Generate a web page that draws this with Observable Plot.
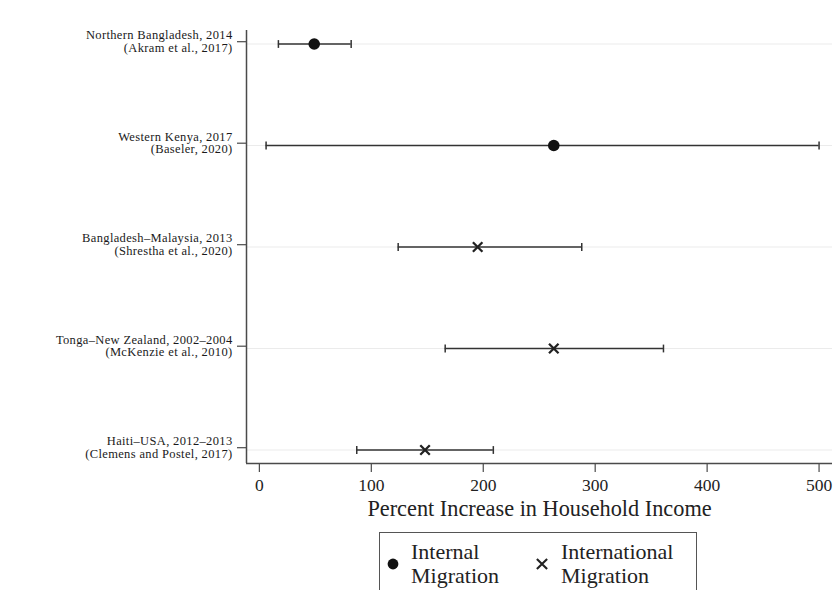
<!DOCTYPE html>
<html>
<head>
<meta charset="utf-8">
<script src="https://cdn.jsdelivr.net/npm/d3@7"></script>
<script src="https://cdn.jsdelivr.net/npm/@observablehq/plot@0.6"></script>
<style>
  html, body { margin: 0; padding: 0; background: #fff; overflow: hidden; }
  #chart { width: 837px; font-family: "Liberation Serif", serif; }
  #chart svg { display: block; }
  #chart svg g[aria-label="y-axis tick label"] text { letter-spacing: 0.35px; }
  .legend {
    position: relative;
    margin: 10px 0 0 379px;
    width: 316px;
    height: 64px;
    border: 1px solid #555;
    font-family: "Liberation Serif", serif;
    font-size: 22px;
    line-height: 24px;
    color: #222;
  }
  .legend .item-text { position: absolute; top: 7px; }
  .legend svg { position: absolute; overflow: visible; }
</style>
</head>
<body>
<div id="chart"></div>
<script>
// Study settings and their sources (top to bottom)
const studies = [
  "Northern Bangladesh, 2014",
  "Western Kenya, 2017",
  "Bangladesh\u2013Malaysia, 2013",
  "Tonga\u2013New Zealand, 2002\u20132004",
  "Haiti\u2013USA, 2012\u20132013"
];
const citations = [
  "(Akram et al., 2017)",
  "(Baseler, 2020)",
  "(Shrestha et al., 2020)",
  "(McKenzie et al., 2010)",
  "(Clemens and Postel, 2017)"
];
const migrationType = ["Internal", "Internal", "International", "International", "International"];

// Point estimates and confidence bounds, percent increase in household income
const estimate = [49, 263, 195, 263, 148];
const lower = [17, 6, 124, 166, 87];
const upper = [82, 500, 288, 361, 209];

const xTicks = [0, 100, 200, 300, 400, 500];
const legendLabels = ["Internal\nMigration", "International\nMigration"];

const rows = studies.map((s, i) => ({
  row: i + 1,
  study: s,
  citation: citations[i],
  type: migrationType[i],
  est: estimate[i],
  lo: lower[i],
  hi: upper[i]
}));

// vertical cap for the ends of each interval
const capSymbol = {
  draw(ctx, size) {
    const h = Math.sqrt(size / Math.PI);
    ctx.moveTo(0, -h);
    ctx.lineTo(0, h);
  }
};

const xMin = -11.5, xMax = 512;
const yMin = 0.867, yMax = 5.133;
const axisColor = "#4a4a4a";

const chart = Plot.plot({
  width: 837,
  height: 522,
  marginTop: 30,
  marginBottom: 59,
  marginLeft: 246,
  marginRight: 5,
  style: { fontFamily: "Liberation Serif, serif", color: "#222", background: "#fff" },
  x: { domain: [xMin, xMax] },
  y: { domain: [yMin, yMax], reverse: true },
  marks: [
    Plot.ruleY(rows, { y: "row", stroke: "#ebebeb", strokeWidth: 1.2 }),
    Plot.ruleY(rows, { y: "row", x1: "lo", x2: "hi", stroke: "#333", strokeWidth: 1.4 }),
    Plot.dot(rows, { x: "lo", y: "row", symbol: capSymbol, r: 3.9, stroke: "#333", strokeWidth: 1.5, fill: "none" }),
    Plot.dot(rows, { x: "hi", y: "row", symbol: capSymbol, r: 3.9, stroke: "#333", strokeWidth: 1.5, fill: "none" }),
    Plot.dot(rows.filter(d => d.type === "Internal"), { x: "est", y: "row", symbol: "circle", r: 5.8, fill: "#111", stroke: "none" }),
    Plot.dot(rows.filter(d => d.type === "International"), { x: "est", y: "row", symbol: "times", r: 4.4, stroke: "#222", strokeWidth: 2.3 }),
    Plot.ruleX([xMin], { stroke: axisColor, strokeWidth: 1.5 }),
    Plot.ruleY([yMax], { stroke: axisColor, strokeWidth: 1.5 }),
    Plot.axisX({
      ticks: xTicks,
      tickSize: 9,
      tickPadding: 6,
      fontSize: 17.5,
      stroke: axisColor,
      strokeWidth: 1.2,
      label: "Percent Increase in Household Income",
      labelAnchor: "center",
      labelArrow: "none",
      labelOffset: 52
    }),
    Plot.axisY({
      ticks: rows.map(d => d.row),
      tickFormat: r => `${studies[r - 1]}\n${citations[r - 1]}`,
      tickSize: 9,
      tickPadding: 5,
      fontSize: 12.5,
      lineHeight: 1.0,
      dy: -2.3,
      fill: "#1a1a1a",
      stroke: axisColor,
      strokeWidth: 1.2,
      label: null
    })
  ]
});

// enlarge the x axis title
d3.select(chart).selectAll("[aria-label='x-axis label'] text, g[aria-label='x-axis label']")
  .attr("font-size", 22.3);

document.getElementById("chart").appendChild(chart);

// legend box below the plot
const legend = d3.select("#chart").append("div").attr("class", "legend");
const glyphs = [
  { left: 13, textLeft: 31, kind: "circle", label: legendLabels[0] },
  { left: 162, textLeft: 181, kind: "times", label: legendLabels[1] }
];
glyphs.forEach(g => {
  const s = legend.append("svg")
    .attr("width", 1).attr("height", 1)
    .style("left", g.left + "px").style("top", "31px");
  if (g.kind === "circle") {
    s.append("path").attr("d", d3.symbol(d3.symbolCircle, Math.PI * 5.4 * 5.4)()).attr("fill", "#111");
  } else {
    s.append("path").attr("d", d3.symbol(d3.symbolTimes, 70)()).attr("fill", "none")
      .attr("stroke", "#222").attr("stroke-width", 2.1);
  }
  const t = legend.append("div").attr("class", "item-text").style("left", g.textLeft + "px");
  g.label.split("\n").forEach(line => t.append("div").text(line));
});
</script>
</body>
</html>
